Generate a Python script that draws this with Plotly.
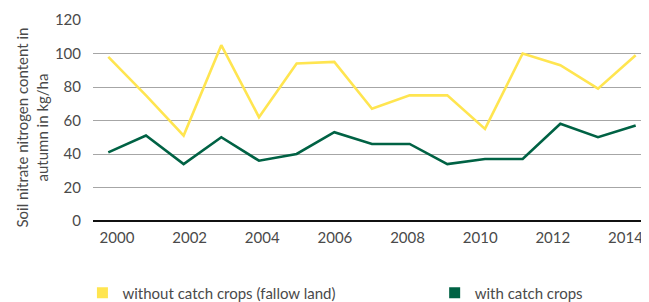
import plotly.graph_objects as go

years = list(range(2000, 2015))
without_catch = [98, 75, 51, 105, 62, 94, 95, 67, 75, 75, 55, 100, 93, 79, 99]
with_catch = [41, 51, 34, 50, 36, 40, 53, 46, 46, 34, 37, 37, 58, 50, 57]
tick_years = list(range(2000, 2015, 2))
y_ticks = [0, 20, 40, 60, 80, 100, 120]
name_without = "without catch crops (fallow land)"
name_with = "with catch crops"
y_title = "Soil nitrate nitrogen content in<br>autumn in kg/ha"

YELLOW = "#FFE550"
GREEN = "#006244"
TEXT = "#4a4a4a"
FONT = "Lato, 'Open Sans', sans-serif"

fig = go.Figure()
fig.add_trace(go.Scatter(x=years, y=without_catch, mode="lines",
                         line=dict(color=YELLOW, width=2.6), showlegend=False))
fig.add_trace(go.Scatter(x=years, y=with_catch, mode="lines",
                         line=dict(color=GREEN, width=2.6), showlegend=False))
# legend entries (square swatches)
fig.add_trace(go.Scatter(x=[None], y=[None], mode="markers", name=name_without,
                         marker=dict(symbol="square", size=11, color=YELLOW),
                         xaxis="x2", legend="legend"))
fig.add_trace(go.Scatter(x=[None], y=[None], mode="markers", name=name_with,
                         marker=dict(symbol="square", size=11, color=GREEN),
                         xaxis="x2", legend="legend2"))

legend_common = dict(orientation="h", y=-0.358, yanchor="middle",
                     xanchor="left", bgcolor="rgba(0,0,0,0)",
                     font=dict(family=FONT, size=15, color=TEXT), itemwidth=30)

# page body has an 8px default margin, so the figure is sized to fill 649x302
fig.update_layout(
    width=641, height=294,
    margin=dict(l=85, r=0, t=12, b=81, autoexpand=False),
    paper_bgcolor="white", plot_bgcolor="white",
    font=dict(family=FONT, size=15, color=TEXT),
    xaxis=dict(range=[1999.594, 2014.354], showgrid=False, zeroline=False,
               showticklabels=False, ticks="", automargin=False),
    xaxis2=dict(range=[1999.339, 2014.648], overlaying="x", side="bottom",
                anchor="y", tickvals=tick_years, showgrid=False, zeroline=False,
                ticks="", ticklabelstandoff=6, automargin=False,
                tickfont=dict(family=FONT, size=15, color=TEXT)),
    yaxis=dict(range=[0, 120], tickvals=y_ticks, showgrid=True,
               gridcolor="#a6a6a6", gridwidth=1.3, zeroline=True,
               zerolinecolor="#111111", zerolinewidth=1.6, ticks="",
               ticklabelstandoff=11, automargin=False,
               tickfont=dict(family=FONT, size=15, color=TEXT)),
    legend=dict(x=-0.019, **legend_common),
    legend2=dict(x=0.6145, **legend_common),
    annotations=[dict(text=y_title, textangle=-90, xref="paper", yref="paper",
                      x=-0.1097, y=0.465, xanchor="center", yanchor="middle",
                      showarrow=False, font=dict(family=FONT, size=15, color=TEXT))],
)

fig.write_html("out.html")
